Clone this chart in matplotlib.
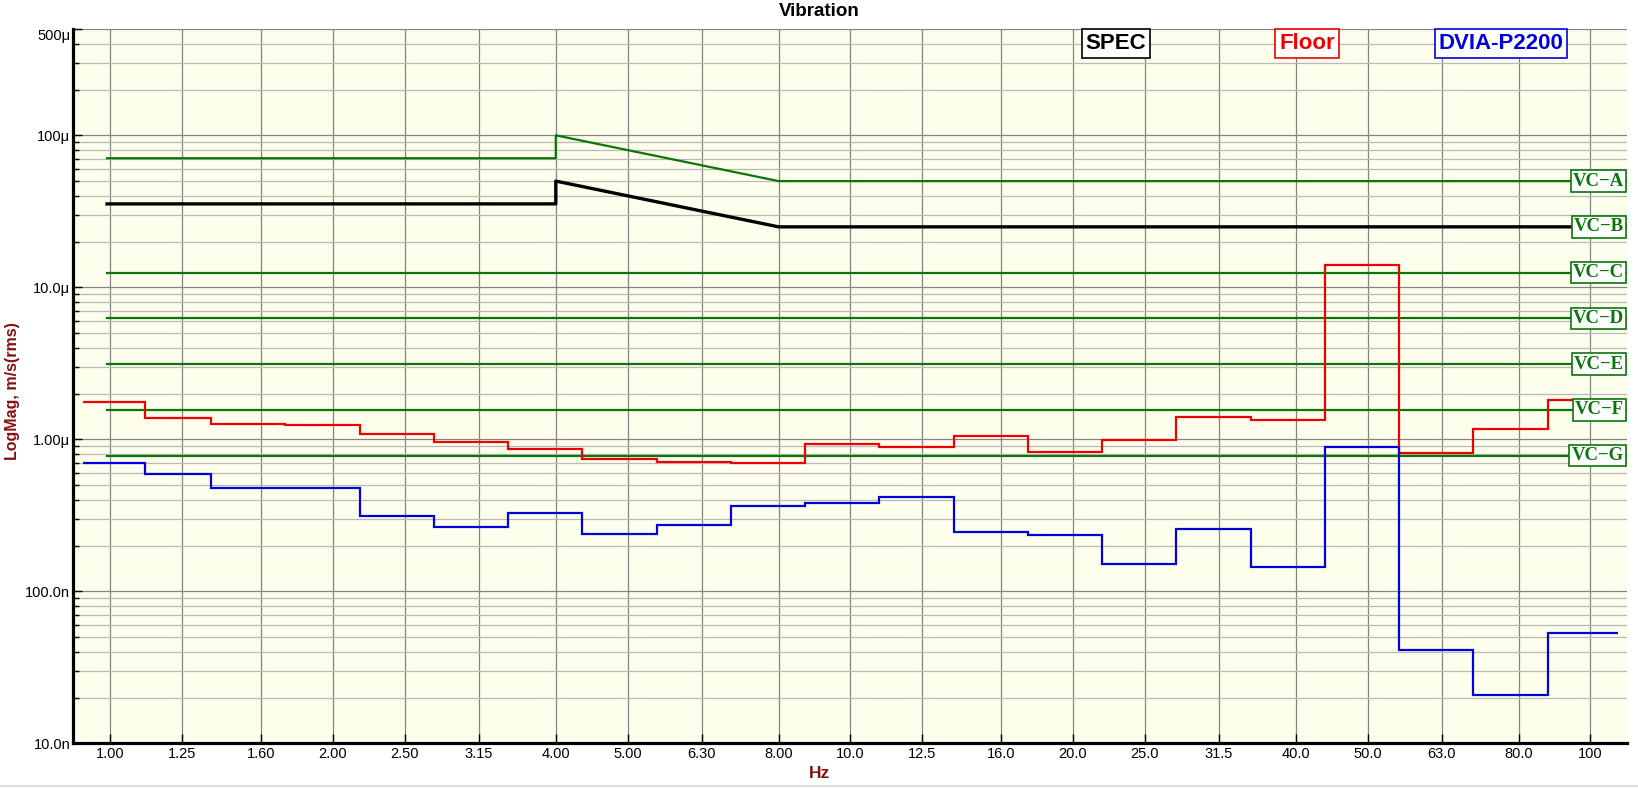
import matplotlib
matplotlib.use('Agg')
import matplotlib.pyplot as plt
from matplotlib.ticker import FixedLocator, NullLocator
from matplotlib.lines import Line2D

plt.rcParams['font.family'] = ['Liberation Sans', 'DejaVu Sans']

# 1/3 octave bands (nominal centres used as tick labels)
band_centers = [1.0, 1.25, 1.6, 2.0, 2.5, 3.15, 4.0, 5.0, 6.3, 8.0, 10.0,
                12.5, 16.0, 20.0, 25.0, 31.5, 40.0, 50.0, 63.0, 80.0, 100.0]
band_labels = ['1.00', '1.25', '1.60', '2.00', '2.50', '3.15', '4.00', '5.00',
               '6.30', '8.00', '10.0', '12.5', '16.0', '20.0', '25.0', '31.5',
               '40.0', '50.0', '63.0', '80.0', '100']
# step edges (Hz)
band_edges = [0.92, 1.114, 1.368, 1.722, 2.175, 2.738, 3.447, 4.34, 5.48, 6.90,
              8.69, 10.93, 13.81, 17.39, 21.89, 27.55, 34.79, 43.8, 55.1, 69.4,
              87.7, 108.9]

# measured spectra, m/s rms
floor = [1.76e-6, 1.39e-6, 1.27e-6, 1.25e-6, 1.09e-6, 0.964e-6, 0.866e-6,
         0.745e-6, 0.712e-6, 0.702e-6, 0.931e-6, 0.894e-6, 1.053e-6, 0.829e-6,
         0.985e-6, 1.41e-6, 1.33e-6, 14.1e-6, 0.817e-6, 1.17e-6, 1.81e-6]
dvia = [0.702e-6, 0.594e-6, 0.481e-6, 0.481e-6, 0.314e-6, 0.266e-6, 0.327e-6,
        0.239e-6, 0.273e-6, 0.364e-6, 0.381e-6, 0.417e-6, 0.246e-6, 0.235e-6,
        0.152e-6, 0.258e-6, 0.145e-6, 0.89e-6, 41.3e-9, 20.8e-9, 53.4e-9]

# criteria curves
crit_freq = [0.99, 4.0, 4.0, 8.0, 112.0]
spec = [35.4e-6, 35.4e-6, 50e-6, 25e-6, 25e-6]
vc_a = [70.7e-6, 70.7e-6, 100e-6, 50e-6, 50e-6]
vc_flat_names = ['VC−C', 'VC−D', 'VC−E', 'VC−F', 'VC−G']
vc_flat_levels = [12.5e-6, 6.25e-6, 3.12e-6, 1.56e-6, 0.78e-6]
vc_names = ['VC−A', 'VC−B'] + vc_flat_names
vc_levels = [50e-6, 25e-6] + vc_flat_levels

y_major = [1e-8, 1e-7, 1e-6, 1e-5, 1e-4, 5e-4]
y_labels = ['10.0n', '100.0n', '1.00μ', '10.0μ', '100μ', '500μ']

green = '#0a760a'
axis_red = '#851010'

fig = plt.figure(figsize=(16.38, 7.88), dpi=100)
ax = fig.add_axes([73 / 1638, 44.7 / 788, 1554 / 1638, 714.2 / 788])
ax.set_facecolor('#fefeec')
ax.set_xscale('log')
ax.set_yscale('log')
ax.set_xlim(0.8905, 112.1)
ax.set_ylim(1e-8, 5e-4)

# grid
ax.set_axisbelow(True)
ax.xaxis.set_major_locator(FixedLocator(band_centers))
ax.xaxis.set_minor_locator(NullLocator())
ax.set_xticklabels(band_labels)
ax.yaxis.set_major_locator(FixedLocator(y_major))
minor = [m * 10.0 ** d for d in range(-8, -3) for m in range(2, 10)]
minor = [v for v in minor if v < 4.5e-4]
ax.yaxis.set_minor_locator(FixedLocator(minor))
ax.set_yticklabels(y_labels)
ax.grid(True, which='major', axis='both', color='#848484', lw=0.9)
ax.grid(True, which='minor', axis='y', color='#b8b8b8', lw=0.9)

ax.tick_params(axis='both', which='major', direction='in', length=6.3,
               width=1.0, color='black', labelsize=10.5, pad=3)
ax.tick_params(axis='y', which='minor', direction='in', length=4.3,
               width=1.0, color='black')
ax.tick_params(axis='y', which='major', pad=2)
ax.get_yticklabels()[-1].set_va('top')

for s in ['top', 'right']:
    ax.spines[s].set_visible(False)
for s in ['left', 'bottom']:
    ax.spines[s].set_linewidth(2.3)
    ax.spines[s].set_color('black')

# criteria lines
ax.plot(crit_freq, vc_a, color=green, lw=1.6, zorder=3)
for lev in vc_flat_levels:
    ax.plot([crit_freq[0], crit_freq[-1]], [lev, lev], color=green, lw=1.6,
            zorder=3)
ax.plot(crit_freq, spec, color='black', lw=2.4, zorder=4)

# spectra
ax.stairs(floor, band_edges, baseline=None, color='#ee0000', lw=1.6, zorder=5)
ax.stairs(dvia, band_edges, baseline=None, color='#0000dd', lw=1.6, zorder=5)

# VC labels
for name, lev in zip(vc_names, vc_levels):
    ax.text(0.998, lev, name, transform=ax.get_yaxis_transform(),
            ha='right', va='center', color=green, fontsize=13.5,
            fontweight='bold',
            family=['Liberation Serif', 'DejaVu Serif'], zorder=10,
            bbox=dict(boxstyle='square,pad=0.12', fc='white', ec=green, lw=1.2))

# legend boxes
for txt, col, xc in [('SPEC', 'black', 1116), ('Floor', '#ee0000', 1307),
                     ('DVIA-P2200', '#0000dd', 1501)]:
    fig.text(xc / 1638, 1 - 43.5 / 788, txt, ha='center', va='center',
             color=col, fontsize=16, fontweight='bold', zorder=10,
             bbox=dict(boxstyle='square,pad=0.18', fc='white', ec=col, lw=1.2))

fig.text(0.5, 1 - 12 / 788, 'Vibration', ha='center', va='center',
         fontsize=13.5, fontweight='bold')
fig.text(820 / 1638, 1 - 773 / 788, 'Hz', ha='center', va='center',
         fontsize=12.5, fontweight='bold', color=axis_red)
fig.text(13 / 1638, 1 - 391 / 788, 'LogMag, m/s(rms)', ha='center',
         va='center', rotation=90, fontsize=11.5, fontweight='bold',
         color=axis_red)
fig.add_artist(Line2D([0, 1], [1 - 786 / 788] * 2, color='#d8d8d8', lw=1.2))

fig.savefig('out.png', dpi=100)
